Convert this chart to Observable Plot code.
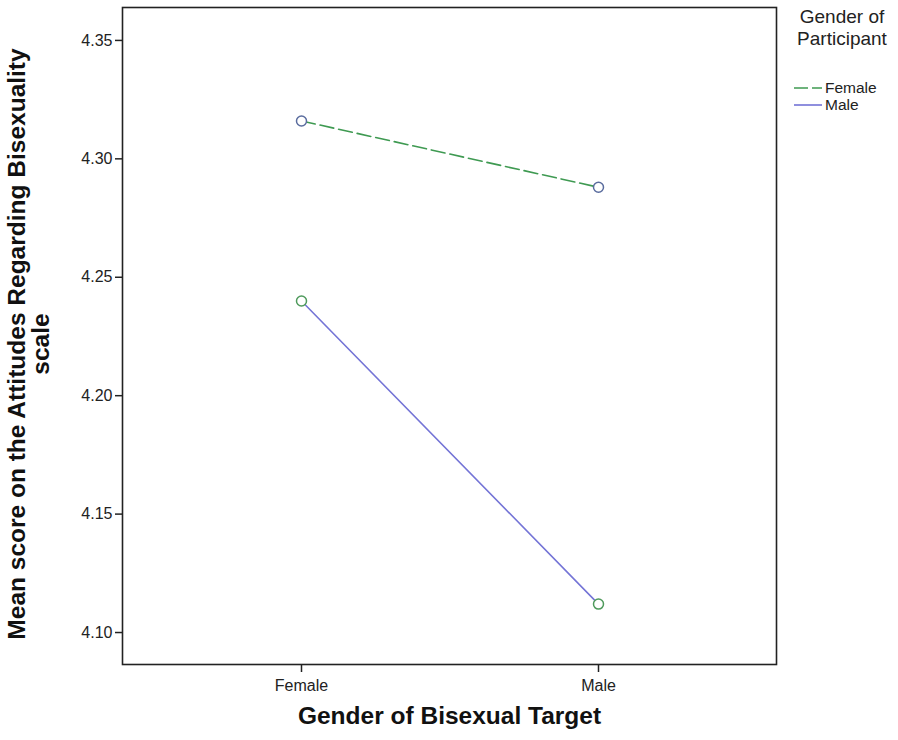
<!DOCTYPE html>
<html>
<head>
<meta charset="utf-8">
<script src="https://cdn.jsdelivr.net/npm/d3@7"></script>
<script src="https://cdn.jsdelivr.net/npm/@observablehq/plot@0.6"></script>
<style>
  html, body { margin: 0; padding: 0; background: #fff; }
  #wrap { position: relative; width: 898px; height: 740px; font-family: "Liberation Sans", Arial, sans-serif; }
  #legend { position: absolute; left: 786px; top: 6px; width: 112px; color: #222; }
  #legend .title { text-align: center; font-size: 19px; line-height: 22px; }
  #legend .item { display: flex; align-items: center; font-size: 15.5px; height: 17px; margin-left: 8px; }
  #legend svg { margin-right: 3px; }
</style>
</head>
<body>
<div id="wrap"></div>
<script>
// ---- data ----
const targets = ["Female", "Male"];                 // Gender of Bisexual Target (x)
const participantGroups = ["Female", "Male"];        // Gender of Participant (series)
const femaleParticipantMeans = [4.316, 4.288];
const maleParticipantMeans = [4.240, 4.112];
const yTicks = [4.10, 4.15, 4.20, 4.25, 4.30, 4.35];
const yDomain = [4.0865, 4.3639];

const lineColors = {Female: "#3f9a52", Male: "#7474d6"};
const markerColors = {Female: "#5a6c9e", Male: "#4f9a5c"};

const rowsFemale = targets.map((t, i) => ({target: t, participant: "Female", mean: femaleParticipantMeans[i]}));
const rowsMale = targets.map((t, i) => ({target: t, participant: "Male", mean: maleParticipantMeans[i]}));

const chart = Plot.plot({
  width: 898,
  height: 740,
  marginLeft: 122,
  marginRight: 122,
  marginTop: 7,
  marginBottom: 76,
  style: {fontFamily: "Liberation Sans, Arial, sans-serif", color: "#222", background: "#fff"},
  x: {type: "point", domain: targets, padding: 0.6},
  y: {domain: yDomain},
  marks: [
    Plot.axisY({ticks: yTicks, tickFormat: d3.format(".2f"), tickSize: 7, tickPadding: 3, label: null, fontSize: 16, strokeWidth: 1.5}),
    Plot.axisX({tickSize: 8, tickPadding: 7, label: null, fontSize: 16, strokeWidth: 1.5}),
    Plot.frame({stroke: "#222", strokeWidth: 1.6}),
    Plot.line(rowsFemale, {x: "target", y: "mean", stroke: lineColors.Female, strokeWidth: 1.6, strokeDasharray: "14,5"}),
    Plot.line(rowsMale, {x: "target", y: "mean", stroke: lineColors.Male, strokeWidth: 1.6}),
    Plot.dot(rowsFemale, {x: "target", y: "mean", r: 5, stroke: markerColors.Female, strokeWidth: 1.5, fill: "white"}),
    Plot.dot(rowsMale, {x: "target", y: "mean", r: 5, stroke: markerColors.Male, strokeWidth: 1.5, fill: "white"}),
    Plot.text(["Mean score on the Attitudes Regarding Bisexuality\nscale"], {
      frameAnchor: "left", dx: -93, dy: 8, rotate: -90, fontSize: 24.5, fontWeight: "bold", lineHeight: 0.95, fill: "#111", textAnchor: "middle"
    }),
    Plot.text(["Gender of Bisexual Target"], {
      frameAnchor: "bottom", dy: 59, fontSize: 24.5, fontWeight: "bold", fill: "#111"
    })
  ]
});

const wrap = document.getElementById("wrap");
wrap.appendChild(chart);

// legend
const legend = document.createElement("div");
legend.id = "legend";
let html = '<div class="title">Gender of<br>Participant</div><div style="height:29px"></div>';
participantGroups.forEach(g => {
  const dash = g === "Female" ? 'stroke-dasharray="14,4"' : '';
  html += `<div class="item"><svg width="28" height="10"><line x1="0" y1="5" x2="28" y2="5" stroke="${lineColors[g]}" stroke-width="1.6" ${dash}/></svg>${g}</div>`;
});
legend.innerHTML = html;
wrap.appendChild(legend);
</script>
</body>
</html>
